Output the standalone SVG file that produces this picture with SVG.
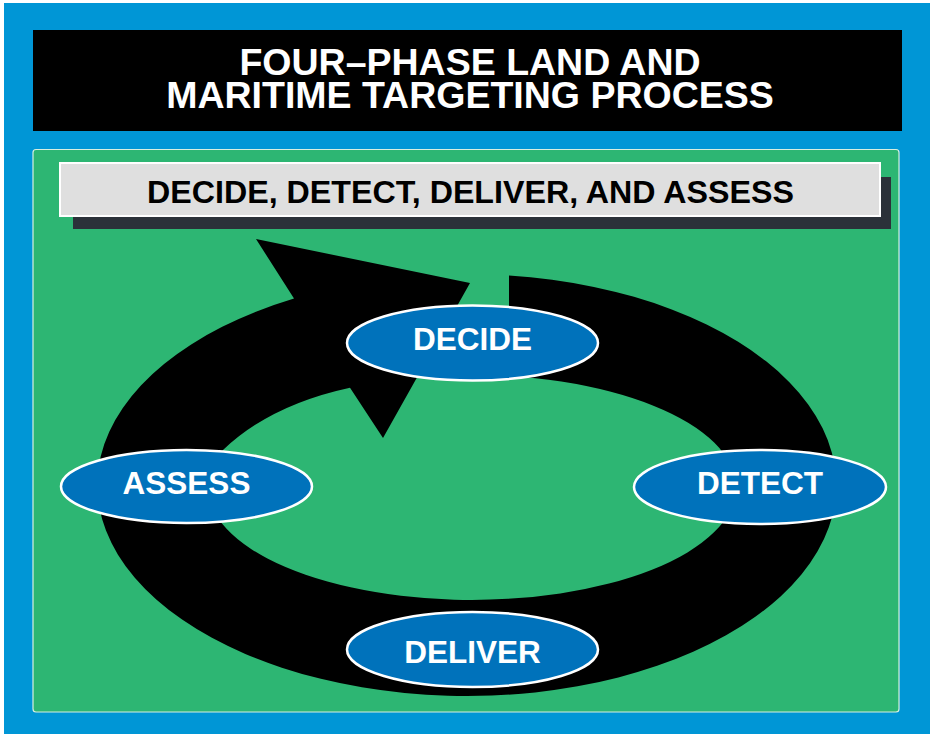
<svg xmlns="http://www.w3.org/2000/svg" width="933" height="734" viewBox="0 0 933 734">
  <style>
    .lbl { font-family: "Liberation Sans", Arial, sans-serif; font-weight: bold; text-anchor: middle; }
    .node ellipse { fill: #0072bb; stroke: #ffffff; stroke-width: 2.5; }
    .node text { fill: #ffffff; font-size: 31.5px; }
  </style>
  <rect x="0" y="0" width="933" height="734" fill="#ffffff"/>
  <rect x="4" y="3" width="926" height="731" fill="#0096d6"/>
  <g id="title">
    <rect x="33" y="30" width="869" height="101" fill="#000000"/>
    <text class="lbl" x="470" y="75" font-size="37.5" fill="#ffffff">FOUR–PHASE LAND AND</text>
    <text class="lbl" x="470" y="108" font-size="37.5" fill="#ffffff">MARITIME TARGETING PROCESS</text>
  </g>
  <rect x="33" y="149.5" width="866" height="562.5" rx="3" fill="#2db673" stroke="#d8eee0" stroke-width="1.2"/>
  <g id="subtitle">
    <rect x="73" y="177" width="818" height="52" fill="#2b3139"/>
    <rect x="60" y="163" width="820" height="53" fill="#dfdfdf" stroke="#ffffff" stroke-width="2"/>
    <text class="lbl" x="470.5" y="203" font-size="32.2" fill="#000000">DECIDE, DETECT, DELIVER, AND ASSESS</text>
  </g>
  <g id="connectors">
    <path fill="#000000" d="M 509 275.4 A 369.5 211 0 1 1 294 298.5 L 256 239 L 470 283 L 383 438 L 350 387.7 Q 270 405 223 450 A 264 112.5 0 1 0 509 376 Z"/>
  </g>
  <g id="decide" class="node">
    <ellipse cx="472.5" cy="343" rx="125.5" ry="37.5"/>
    <text class="lbl" x="472.5" y="350">DECIDE</text>
  </g>
  <g id="detect" class="node">
    <ellipse cx="760" cy="487" rx="126" ry="37"/>
    <text class="lbl" x="760" y="494">DETECT</text>
  </g>
  <g id="deliver" class="node">
    <ellipse cx="472.5" cy="649.5" rx="125.5" ry="37.5"/>
    <text class="lbl" x="472.5" y="663">DELIVER</text>
  </g>
  <g id="assess" class="node">
    <ellipse cx="186.5" cy="486.5" rx="125.5" ry="36.5"/>
    <text class="lbl" x="186.5" y="494">ASSESS</text>
  </g>
</svg>
